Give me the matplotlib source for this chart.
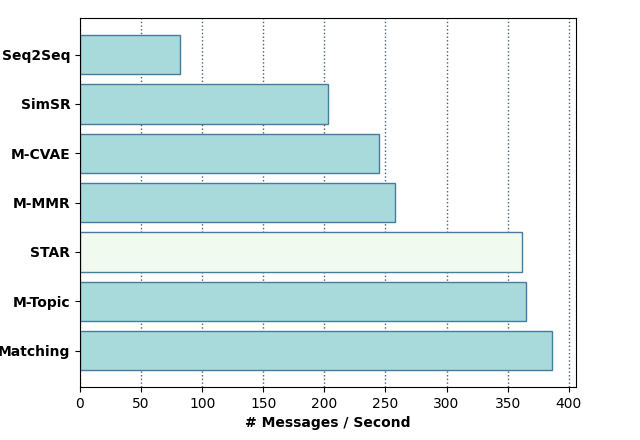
import matplotlib
matplotlib.use("Agg")
import matplotlib.pyplot as plt

# top to bottom as shown
models = ["Seq2Seq", "SimSR", "M-CVAE", "M-MMR", "STAR", "M-Topic", "Matching"]
speed = [82, 203, 245, 258, 362, 365, 386]

BAR_COLOR = "#a8dadc"
HIGHLIGHT = "#f1faee"
EDGE = "#457b9d"

colors = [HIGHLIGHT if m == "STAR" else BAR_COLOR for m in models]

fig, ax = plt.subplots(figsize=(6.4, 4.4), dpi=100)
fig.subplots_adjust(left=0.125, right=0.9, top=0.959, bottom=0.12)

ax.set_axisbelow(True)
ax.grid(axis="x", linestyle=":", color="#1d3557", linewidth=1.0, alpha=0.8)
ax.barh(models, speed, height=0.8, color=colors, edgecolor=EDGE, linewidth=1.0)
ax.invert_yaxis()

ax.set_xlim(0, 406)
ax.set_xticks(range(0, 401, 50))
ax.set_xlabel("# Messages / Second", fontweight="bold")
for lbl in ax.get_yticklabels():
    lbl.set_fontweight("bold")

plt.savefig("out.png", dpi=100)
plt.close(fig)
